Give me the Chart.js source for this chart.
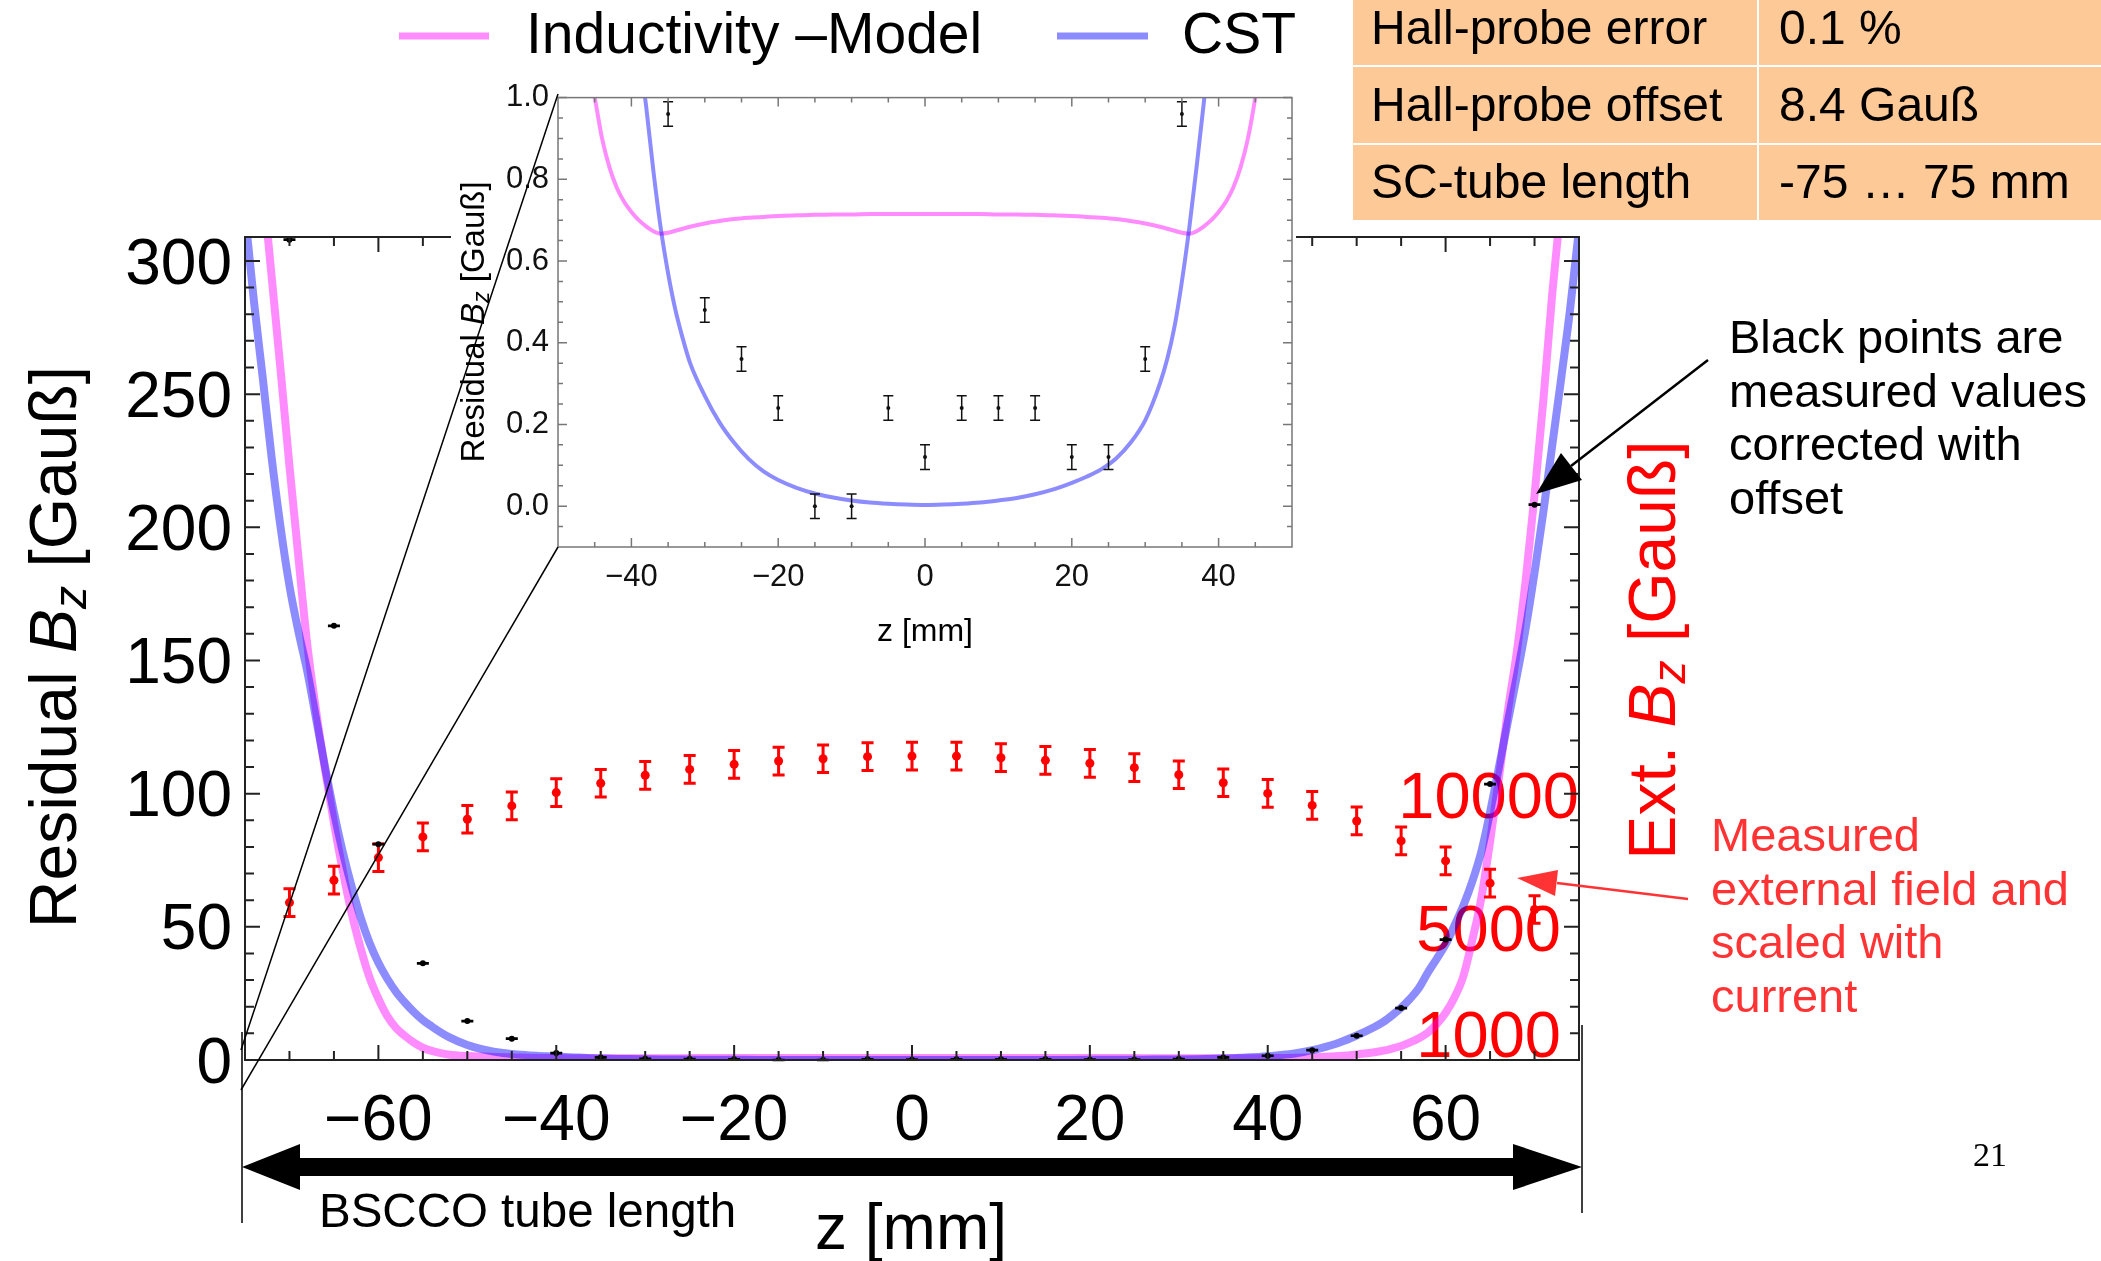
<!DOCTYPE html>
<html>
<head>
<meta charset="utf-8">
<script src="https://cdn.jsdelivr.net/npm/chart.js@4.4.1/dist/chart.umd.min.js"></script>
<style>
html,body{margin:0;padding:0;background:#fff;}
#wrap{position:relative;width:2101px;height:1261px;overflow:hidden;font-family:"Liberation Sans",Arial,sans-serif;color:#000;}
#main{position:absolute;left:0;top:0;}
#inset{position:absolute;left:451px;top:70px;background:#fff;}
svg{position:absolute;left:0;top:0;}
.t{position:absolute;white-space:nowrap;line-height:1;}
.rot{transform:translate(-50%,-50%) rotate(-90deg);}
sub{font-size:0.7em;vertical-align:-0.22em;line-height:0;}
.cell{position:absolute;background:#fdc996;}
</style>
</head>
<body>
<div id="wrap">
<canvas id="main" width="2101" height="1261"></canvas>
<canvas id="inset" width="845" height="590"></canvas>
<svg width="2101" height="1261" viewBox="0 0 2101 1261">
  <line x1="399" y1="36" x2="489" y2="36" stroke="rgba(255,0,255,0.45)" stroke-width="7"/>
  <line x1="1057" y1="36" x2="1148" y2="36" stroke="rgba(0,0,255,0.45)" stroke-width="7"/>
  <line x1="241" y1="1050" x2="558" y2="94" stroke="#000" stroke-width="1.5"/>
  <line x1="241" y1="1090" x2="558" y2="547" stroke="#000" stroke-width="1.5"/>
  <line x1="242" y1="1032" x2="242" y2="1223" stroke="#000" stroke-width="1.5"/>
  <line x1="1582" y1="1025" x2="1582" y2="1213" stroke="#000" stroke-width="1.5"/>
  <polygon points="242,1167 300,1144 300,1158 1513,1158 1513,1144 1582,1167 1513,1190 1513,1176 300,1176 300,1190" fill="#000"/>
  <line x1="1708" y1="360" x2="1571" y2="466" stroke="#000" stroke-width="2.5"/>
  <polygon points="1536,494 1582,480 1561,453" fill="#000"/>
  <line x1="1688" y1="899" x2="1557" y2="883" stroke="#ff3333" stroke-width="2.5"/>
  <polygon points="1517,878 1558,870 1555,896" fill="#ff3333"/>
</svg>

<div class="t" style="left:526px;top:5px;font-size:57px;">Inductivity –Model</div>
<div class="t" style="left:1182px;top:5px;font-size:57px;">CST</div>

<div class="cell" style="left:1353px;top:0;width:404px;height:65px;"></div>
<div class="cell" style="left:1759px;top:0;width:342px;height:65px;"></div>
<div class="cell" style="left:1353px;top:67px;width:404px;height:76px;"></div>
<div class="cell" style="left:1759px;top:67px;width:342px;height:76px;"></div>
<div class="cell" style="left:1353px;top:145px;width:404px;height:75px;"></div>
<div class="cell" style="left:1759px;top:145px;width:342px;height:75px;"></div>
<div class="t" style="left:1371px;top:4px;font-size:48px;">Hall-probe error</div>
<div class="t" style="left:1779px;top:4px;font-size:48px;">0.1 %</div>
<div class="t" style="left:1371px;top:81px;font-size:48px;">Hall-probe offset</div>
<div class="t" style="left:1779px;top:81px;font-size:48px;">8.4 Gauß</div>
<div class="t" style="left:1371px;top:158px;font-size:48px;">SC-tube length</div>
<div class="t" style="left:1779px;top:158px;font-size:48px;">-75 … 75 mm</div>

<div class="t" style="left:1729px;top:310px;font-size:47px;line-height:53.7px;">Black points are<br>measured values<br>corrected with<br>offset</div>
<div class="t" style="left:1711px;top:808px;font-size:47px;line-height:53.7px;color:#ff3333;">Measured<br>external field and<br>scaled with<br>current</div>

<div class="t rot" style="left:53px;top:647px;font-size:66px;">Residual <i>B</i><sub><i>z</i></sub> [Gauß]</div>
<div class="t rot" style="left:1652px;top:650px;font-size:66px;color:#ff0000;">Ext. <i>B</i><sub><i>z</i></sub> [Gauß]</div>
<div class="t" style="left:911px;top:1195px;font-size:64px;transform:translateX(-50%);">z [mm]</div>
<div class="t" style="left:319px;top:1187px;font-size:47.5px;">BSCCO tube length</div>
<div class="t" style="left:1973px;top:1138px;font-size:34px;font-family:'Liberation Serif',serif;">21</div>

<div class="t" style="left:925px;top:614px;font-size:32px;transform:translateX(-50%);">z [mm]</div>
<div class="t rot" style="left:472px;top:322px;font-size:33px;">Residual <i>B</i><sub><i>z</i></sub> [Gauß]</div>
</div>

<script>
// ---------- data ----------
const zGrid = [-75,-74,-73,-72,-71,-70,-69,-68,-67,-66,-65,-64,-63,-62,-61,-60,-59,-58,-57,-56,-55,-54,-53,-52,-50,-48,-46,-45,-44,-43,-42,-41,-40,-39,-38,-37,-36,-35,-34,-33,-32,-30,-28,-26,-24,-22,-20,-17.5,-15,-12.5,-10,-7.5,-5,-2.5,0,
  2.5,5,7.5,10,12.5,15,17.5,20,22,24,26,28,30,32,33,34,35,36,37,38,39,40,41,42,43,44,45,46,48,50,52,53,54,55,56,57,58,59,60,61,62,63,64,65,66,67,68,69,70,71,72,73,74,75];

const inductivityModel = [400,364,329,294,259,223,189,156,131,109,89,71,55,42,31,23,16.5,12,9,6.5,4.6,3.4,2.6,2.0,1.5,1.27,1.08,1.0,0.90,0.83,0.78,0.745,0.72,0.70,0.685,0.673,0.667,0.669,0.674,0.679,0.684,0.692,0.698,0.703,0.706,0.708,0.710,0.712,0.713,0.714,0.714,0.715,0.715,0.715,0.715,
  0.715,0.715,0.715,0.714,0.714,0.713,0.712,0.710,0.708,0.706,0.703,0.698,0.692,0.684,0.679,0.674,0.669,0.667,0.673,0.685,0.70,0.72,0.745,0.78,0.83,0.90,1.0,1.12,1.5,2.1,2.9,3.5,4.3,5.25,6.6,8.2,10.3,13.5,17.75,23.5,31.5,45,60.5,82,106,131,153,180,212,248,288,322,356,390];

const cstModel = [318,285,256,226,200,178,161,146,128,110,93,78,65,53.5,44,36.5,30.5,25.5,21.5,18,15,12.6,10.4,8.5,5.6,3.8,2.6,2.25,1.95,1.72,1.55,1.4,1.28,1.12,0.98,0.82,0.68,0.57,0.48,0.41,0.35,0.27,0.205,0.155,0.115,0.085,0.064,0.045,0.031,0.021,0.014,0.009,0.006,0.004,0.003,
  0.004,0.006,0.009,0.014,0.02,0.029,0.041,0.057,0.072,0.09,0.116,0.155,0.21,0.30,0.36,0.44,0.55,0.68,0.83,0.99,1.17,1.4,1.7,2.05,2.45,3.0,3.7,4.5,6.5,9.2,12.4,14.3,16.8,19.6,23,27,32.8,38,43.4,50.5,58,67,78,93,110,127,144,162,183,206,231,256,282,312];

const zMeasured = [-70,-65,-60,-55,-50,-45,-40,-35,-30,-25,-20,-15,-10,-5,0,5,10,15,20,25,30,35,40,45,50,55,60,65,70];
const residualBz = [308,163,81,36.3,14.6,8,2.6,0.96,0.48,0.36,0.24,0,0,0.24,0.12,0.24,0.24,0.24,0.12,0.12,0.36,0.96,1.6,3.7,9.1,19.5,45.2,103.6,208.5];
const residualErr = [0.03,0.03,0.03,0.03,0.03,0.03,0.03,0.03,0.03,0.03,0.03,0.03,0.03,0.03,0.03,0.03,0.03,0.03,0.03,0.03,0.03,0.03,0.03,0.03,0.03,0.03,0.03,0.03,0.03];
const extBz = [5910,6750,7600,8375,9040,9540,10040,10390,10690,10910,11100,11225,11310,11390,11410,11410,11350,11250,11140,10975,10710,10410,10010,9560,8975,8225,7475,6640,5650];
const extErr = [520,520,520,520,520,520,520,520,520,520,520,520,520,520,520,520,520,520,520,520,520,520,520,520,520,520,520,520,520];

// ---------- ticks ----------
const xTickValues = [-60,-40,-20,0,20,40,60];
const xMinorTicks = [-70,-65,-60,-55,-50,-45,-40,-35,-30,-25,-20,-15,-10,-5,0,5,10,15,20,25,30,35,40,45,50,55,60,65,70];
const yTickValues = [0,50,100,150,200,250,300];
const yMinorTicks = [10,20,30,40,50,60,70,80,90,100,110,120,130,140,150,160,170,180,190,200,210,220,230,240,250,260,270,280,290,300];
const extTickValues = [1000,5000,10000];
const extMajorTicks = [5000,10000,15000,20000,25000,30000];
const extMinorTicks = [1000,2000,3000,4000,5000,6000,7000,8000,9000,10000,11000,12000,13000,14000,15000,16000,17000,18000,19000,20000,21000,22000,23000,24000,25000,26000,27000,28000,29000,30000];

const insetXTicks = [-40,-20,0,20,40];
const insetXMinor = [-45,-40,-35,-30,-25,-20,-15,-10,-5,0,5,10,15,20,25,30,35,40,45];
const insetYTicks = [0,0.2,0.4,0.6,0.8,1.0];
const insetYMinor = [-0.05,0,0.05,0.1,0.15,0.2,0.25,0.3,0.35,0.4,0.45,0.5,0.55,0.6,0.65,0.7,0.75,0.8,0.85,0.9,0.95];

// ---------- styles ----------
const PINK = 'rgba(255,0,255,0.45)';
const BLUE = 'rgba(0,0,255,0.45)';
const fmtZ = v => (v < 0 ? '\u2212' + Math.abs(v) : String(v));

Chart.defaults.font.family = '"Liberation Sans", Arial, sans-serif';
Chart.defaults.color = '#000';

const errorBarPlugin = {
  id: 'errorBars',
  beforeDatasetDraw(chart, args) {
    const ds = chart.data.datasets[args.index];
    if (!ds.errorBars) return;
    const meta = args.meta;
    const xs = chart.scales[meta.xAxisID], ys = chart.scales[meta.yAxisID];
    const a = chart.chartArea, ctx = chart.ctx, eb = ds.errorBars;
    ctx.save();
    ctx.beginPath();
    ctx.rect(a.left, a.top - 2, a.right - a.left, a.bottom - a.top + 4);
    ctx.clip();
    ctx.strokeStyle = eb.color;
    ctx.lineWidth = eb.width;
    ds.data.forEach((p, i) => {
      const e = eb.values[i];
      const px = xs.getPixelForValue(p.x);
      const t = ys.getPixelForValue(p.y + e), b = ys.getPixelForValue(p.y - e);
      ctx.beginPath();
      ctx.moveTo(px, t); ctx.lineTo(px, b);
      ctx.moveTo(px - eb.cap, t); ctx.lineTo(px + eb.cap, t);
      ctx.moveTo(px - eb.cap, b); ctx.lineTo(px + eb.cap, b);
      ctx.stroke();
    });
    ctx.restore();
  }
};

const frameTicksPlugin = {
  id: 'frameTicks',
  afterDatasetsDraw(chart, args, o) {
    const ctx = chart.ctx, a = chart.chartArea;
    const xs = chart.scales.x, ys = chart.scales.y, rs = chart.scales[o.rightAxis] || ys;
    ctx.save();
    ctx.strokeStyle = o.color;
    ctx.lineWidth = o.tickWidth;
    ctx.beginPath();
    const xt = (list, L) => list.forEach(v => {
      const p = xs.getPixelForValue(v);
      ctx.moveTo(p, a.bottom); ctx.lineTo(p, a.bottom - L);
      ctx.moveTo(p, a.top); ctx.lineTo(p, a.top + L);
    });
    const yl = (list, L) => list.forEach(v => {
      const p = ys.getPixelForValue(v);
      ctx.moveTo(a.left, p); ctx.lineTo(a.left + L, p);
    });
    const yr = (list, L) => list.forEach(v => {
      const p = rs.getPixelForValue(v);
      ctx.moveTo(a.right, p); ctx.lineTo(a.right - L, p);
    });
    xt(o.xMinor, o.minor); xt(o.xMajor, o.major);
    yl(o.yMinor, o.minor); yl(o.yMajor, o.major);
    yr(o.rMinor, o.minor); yr(o.rMajor, o.major);
    ctx.stroke();
    ctx.lineWidth = o.frameWidth;
    ctx.strokeRect(a.left, a.top, a.right - a.left, a.bottom - a.top);
    ctx.restore();
  }
};

// ---------- main chart ----------
new Chart(document.getElementById('main'), {
  type: 'scatter',
  data: {
    datasets: [
      { label: 'Residual', yAxisID: 'y',
        data: zMeasured.map((z, i) => ({x: z, y: residualBz[i]})),
        pointRadius: 3, pointBackgroundColor: '#000', pointBorderWidth: 0,
        errorBars: {values: residualErr, cap: 6, width: 2.5, color: '#000'} },
      { label: 'Ext', yAxisID: 'y2',
        data: zMeasured.map((z, i) => ({x: z, y: extBz[i]})),
        pointRadius: 4.5, pointBackgroundColor: '#ff0000', pointBorderWidth: 0,
        errorBars: {values: extErr, cap: 6, width: 3, color: '#ff0000'} },
      { label: 'CST', yAxisID: 'y', showLine: true, clip: 0,
        data: zGrid.map((z, i) => ({x: z, y: cstModel[i]})),
        borderColor: BLUE, borderWidth: 8, pointRadius: 0, cubicInterpolationMode: 'monotone' },
      { label: 'Inductivity –Model', yAxisID: 'y', showLine: true, clip: 0,
        data: zGrid.map((z, i) => ({x: z, y: inductivityModel[i]})),
        borderColor: PINK, borderWidth: 8, pointRadius: 0, cubicInterpolationMode: 'monotone' }
    ]
  },
  options: {
    responsive: false, animation: false, devicePixelRatio: 1,
    layout: {padding: {top: 237, left: 0, right: 0, bottom: 0}},
    plugins: {
      legend: {display: false}, tooltip: {enabled: false},
      frameTicks: {color: '#222', tickWidth: 2, frameWidth: 2, major: 15, minor: 9, rightAxis: 'y2',
        xMajor: xTickValues, xMinor: xMinorTicks, yMajor: yTickValues, yMinor: yMinorTicks,
        rMajor: extMajorTicks, rMinor: extMinorTicks}
    },
    scales: {
      x: {type: 'linear', position: 'bottom', min: -75, max: 75,
        grid: {display: false, drawTicks: false}, border: {display: false},
        ticks: {autoSkip: false, maxRotation: 0, padding: 24, font: {size: 64}, color: '#000', callback: v => fmtZ(v)},
        afterBuildTicks: s => { s.ticks = xTickValues.map(v => ({value: v})); },
        afterFit: s => { s.height = 201; }},
      y: {type: 'linear', position: 'left', min: 0, max: 309,
        grid: {display: false, drawTicks: false}, border: {display: false},
        ticks: {padding: 13, labelOffset: 5, font: {size: 64}, color: '#000', callback: v => String(v)},
        afterBuildTicks: s => { s.ticks = yTickValues.map(v => ({value: v})); },
        afterFit: s => { s.width = 245; }},
      y2: {type: 'linear', position: 'right', min: 0, max: 30900,
        grid: {display: false, drawTicks: false}, border: {display: false},
        ticks: {mirror: true, crossAlign: 'center', padding: 0, labelOffset: 6, font: {size: 65}, color: '#ff0000', callback: v => String(v)},
        afterBuildTicks: s => { s.ticks = extTickValues.map(v => ({value: v})); },
        afterFit: s => { s.width = 522; }}
    }
  },
  plugins: [errorBarPlugin, frameTicksPlugin]
});

// ---------- inset chart ----------
new Chart(document.getElementById('inset'), {
  type: 'scatter',
  data: {
    datasets: [
      { label: 'Residual', data: zMeasured.map((z, i) => ({x: z, y: residualBz[i]})),
        pointRadius: 2, pointBackgroundColor: '#111', pointBorderWidth: 0,
        errorBars: {values: residualErr, cap: 5, width: 1.5, color: '#111'} },
      { label: 'CST', showLine: true, clip: 0, data: zGrid.map((z, i) => ({x: z, y: cstModel[i]})),
        borderColor: BLUE, borderWidth: 4, pointRadius: 0, cubicInterpolationMode: 'monotone' },
      { label: 'Inductivity –Model', showLine: true, clip: 0, data: zGrid.map((z, i) => ({x: z, y: inductivityModel[i]})),
        borderColor: PINK, borderWidth: 4, pointRadius: 0, cubicInterpolationMode: 'monotone' }
    ]
  },
  options: {
    responsive: false, animation: false, devicePixelRatio: 1,
    layout: {padding: {top: 24, right: 3, left: 0, bottom: 0}},
    plugins: {
      legend: {display: false}, tooltip: {enabled: false},
      frameTicks: {color: '#777', tickWidth: 1.5, frameWidth: 1.5, major: 9, minor: 5, rightAxis: 'y',
        xMajor: insetXTicks, xMinor: insetXMinor, yMajor: insetYTicks, yMinor: insetYMinor,
        rMajor: insetYTicks, rMinor: insetYMinor}
    },
    scales: {
      x: {type: 'linear', min: -50, max: 50,
        grid: {display: false, drawTicks: false}, border: {display: false},
        ticks: {autoSkip: false, maxRotation: 0, padding: 12, font: {size: 31}, color: '#111', callback: v => fmtZ(v)},
        afterBuildTicks: s => { s.ticks = insetXTicks.map(v => ({value: v})); },
        afterFit: s => { s.height = 113; }},
      y: {type: 'linear', min: -0.1, max: 1.0,
        grid: {display: false, drawTicks: false}, border: {display: false},
        ticks: {padding: 9, font: {size: 31}, color: '#111', callback: v => Number(v).toFixed(1)},
        afterBuildTicks: s => { s.ticks = insetYTicks.map(v => ({value: v})); },
        afterFit: s => { s.width = 107; }}
    }
  },
  plugins: [errorBarPlugin, frameTicksPlugin]
});
</script>
</body>
</html>
